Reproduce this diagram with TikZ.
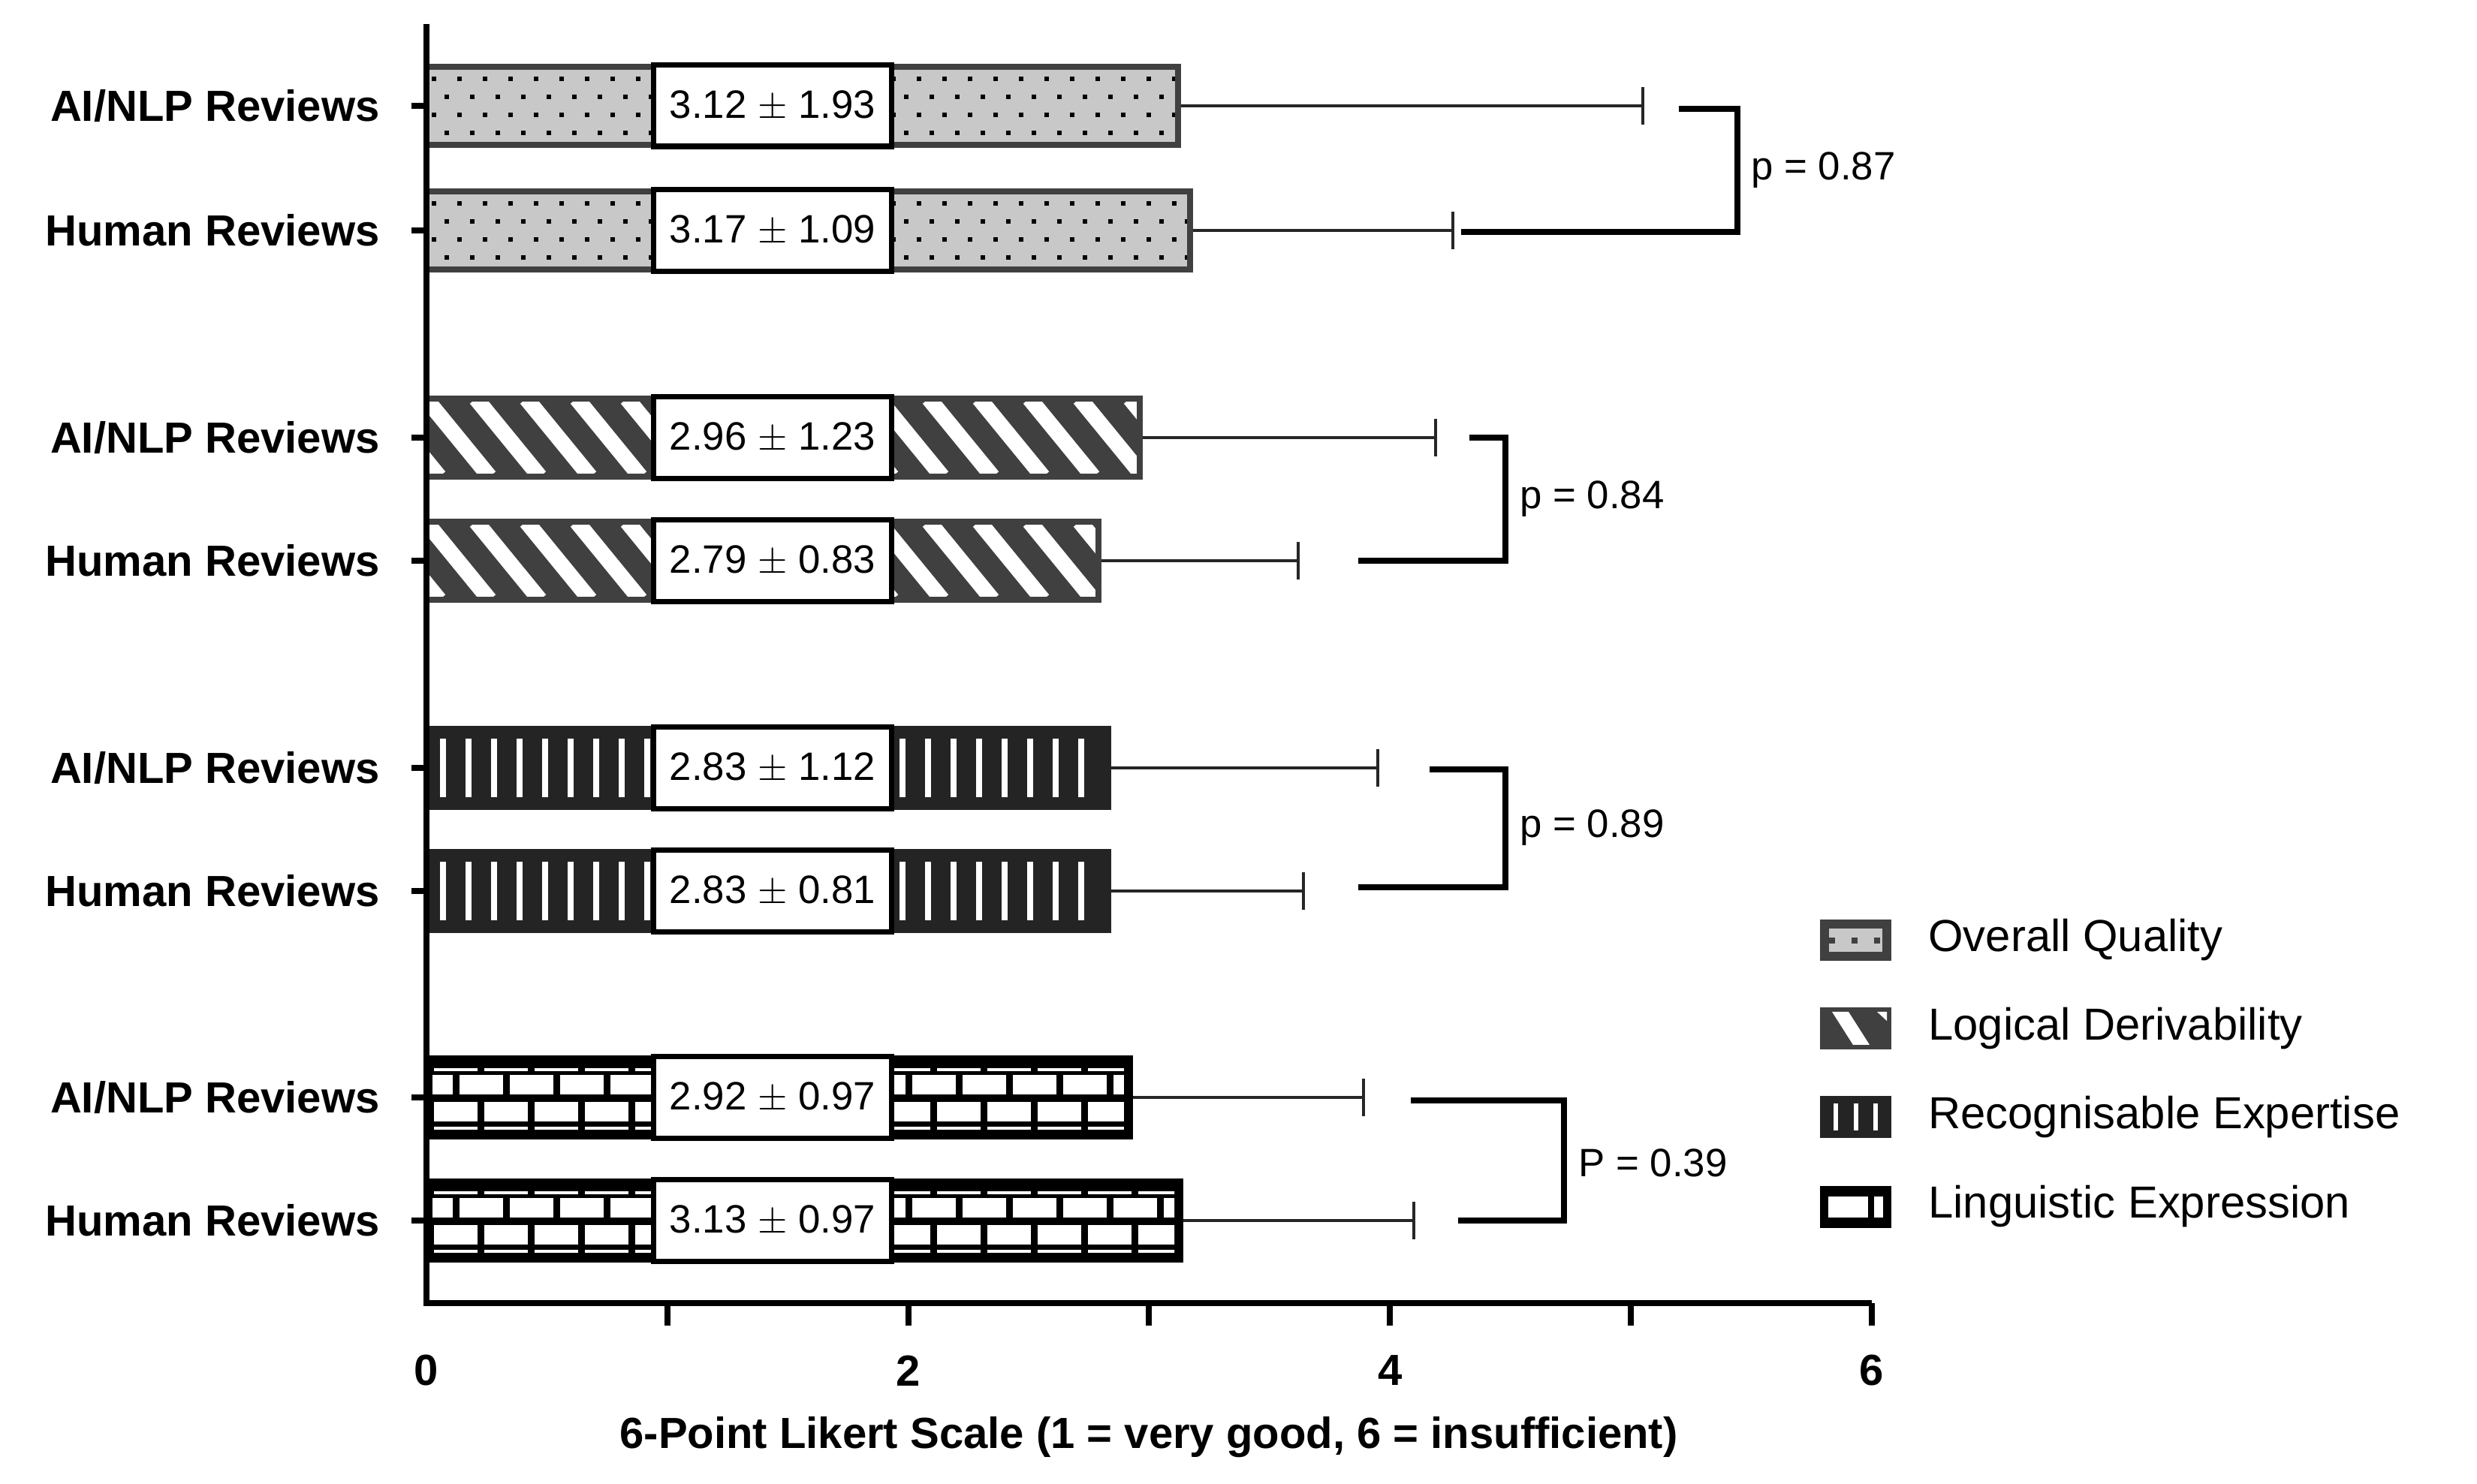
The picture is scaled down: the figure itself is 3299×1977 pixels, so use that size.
\documentclass[tikz,border=0pt]{standalone}
\usepackage{fontspec}
\setmainfont{Liberation Sans}
\definecolor{dg}{HTML}{404040}
\definecolor{lg}{HTML}{C8C8C8}
\definecolor{vk}{HTML}{242424}
\newcommand\barDots[3]{% x1, top, bottom
  \fill[lg] (568,#2) rectangle (#1,#3);
  \begin{scope}
    \clip (568,#2) rectangle (#1,#3);
    \foreach \r in {0,1,2,3}{
      \pgfmathsetmacro\yy{#2+16+\r*24}
      \pgfmathsetmacro\off{mod(\r,2)*17}
      \foreach \k in {0,...,60}{
        \fill[black] ({578+\off+\k*34-3},{\yy-3}) rectangle ++(6,6);
      }}
  \end{scope}
  \draw[dg,line width=2.3pt] (568,#2) rectangle (#1,#3);
}
\newcommand\barDiag[3]{%
  \fill[dg] (568,#2) rectangle (#1,#3);
  \begin{scope}
    \clip (568,#2) rectangle (#1,#3);
    \foreach \k in {0,...,40}{
      \draw[white,line width=6pt] ({500+\k*67},#2) -- ({500+\k*67+85},#3);
    }
  \end{scope}
  \draw[dg,line width=2.3pt] (568,#2) rectangle (#1,#3);
}
\newcommand\barVert[3]{%
  \fill[vk] (568,#2) rectangle (#1,#3);
  \begin{scope}
    \clip (580,#2) rectangle ({#1-12},#3);
    \foreach \k in {0,...,60}{
      \draw[white,line width=2pt] ({590+\k*34},{#2+13}) -- ({590+\k*34},{#3-13});
    }
  \end{scope}
  \draw[vk,line width=2.3pt] (568,#2) rectangle (#1,#3);
}
\newcommand\barBrick[3]{%
  \fill[black] (568,#2) rectangle (#1,#3);
  \begin{scope}
    \clip (576,#2) rectangle ({#1-8},#3);
    \foreach \k in {0,...,40}{
      \fill[white] ({578+\k*67},{#2+13}) rectangle ++(58,4);
      \fill[white] ({578+\k*67-33},{#2+22}) rectangle ++(58,26);
      \fill[white] ({578+\k*67},{#2+58}) rectangle ++(58,26);
      \fill[white] ({578+\k*67},{#2+91}) rectangle ++(58,4);
    }
  \end{scope}
  \draw[black,line width=2.3pt] (568,#2) rectangle (#1,#3);
}
\newcommand\mybar[6]{% #1 name, #2 y, #3 mean, #4 sd, #5 type macro, #6 text
  \pgfmathsetmacro\xe{568+#3*320.8}
  \pgfmathsetmacro\xs{568+(#3+#4)*320.8}
  \draw[errl] (\xe,#2) -- (\xs,#2);
  \draw[errl] (\xs,{#2-25}) -- (\xs,{#2+25});
  #5{\xe}{#2-52}{#2+52}
  \node[vbox] (#1) at (1029,#2) {#6};
  \draw[axisl] (548,#2) -- (568,#2);
}
\begin{document}
\begin{tikzpicture}[x=0.01cm,y=-0.01cm,
  errl/.style={line width=1.1pt,black!85},
  axisl/.style={line width=2.3pt,black},
  brk/.style={line width=2.3pt,black},
  vbox/.style={draw=black,line width=2pt,fill=white,minimum width=3.16cm,minimum height=1.08cm,inner sep=0pt,font=\fontsize{15}{18}\selectfont},
  cat/.style={anchor=east,font=\bfseries\fontsize{16.5}{20}\selectfont},
  pl/.style={anchor=west,font=\fontsize{15}{18}\selectfont},
  leg/.style={anchor=west,font=\fontsize{17}{20}\selectfont}]
\useasboundingbox (0,0) rectangle (3299,1977);
\fill[white] (0,0) rectangle (3299,1977);
% bars
\mybar{v1}{141}{3.12}{1.93}{\barDots}{3.12 $\pm$ 1.93}
\mybar{v2}{307}{3.17}{1.09}{\barDots}{3.17 $\pm$ 1.09}
\mybar{v3}{583}{2.96}{1.23}{\barDiag}{2.96 $\pm$ 1.23}
\mybar{v4}{747}{2.79}{0.83}{\barDiag}{2.79 $\pm$ 0.83}
\mybar{v5}{1023}{2.83}{1.12}{\barVert}{2.83 $\pm$ 1.12}
\mybar{v6}{1187}{2.83}{0.81}{\barVert}{2.83 $\pm$ 0.81}
\mybar{v7}{1462}{2.92}{0.97}{\barBrick}{2.92 $\pm$ 0.97}
\mybar{v8}{1626}{3.13}{0.97}{\barBrick}{3.13 $\pm$ 0.97}
% category labels
\node[cat] (c1) at (518,141) {AI/NLP Reviews};
\node[cat] (c2) at (518,307) {Human Reviews};
\node[cat] (c3) at (518,583) {AI/NLP Reviews};
\node[cat] (c4) at (518,747) {Human Reviews};
\node[cat] (c5) at (518,1023) {AI/NLP Reviews};
\node[cat] (c6) at (518,1187) {Human Reviews};
\node[cat] (c7) at (518,1462) {AI/NLP Reviews};
\node[cat] (c8) at (518,1626) {Human Reviews};
% axes
\draw[axisl] (568,32) -- (568,1736) -- (2493,1736);
\foreach \i in {1,...,6}{\draw[axisl] ({568+\i*320.8},1736) -- ({568+\i*320.8},1766);}
\foreach \i in {0,2,4,6}{\node[font=\bfseries\fontsize{16.5}{20}\selectfont] (t\i) at ({568+\i*320.8},1826) {\i};}
\node[font=\bfseries\fontsize{16.5}{20}\selectfont] (title) at (1530,1915) {6-Point Likert Scale (1 = very good, 6 = insufficient)};
% brackets
\draw[brk] (2236,145) -- (2314,145) -- (2314,309) -- (1946,309);
\node[pl] (p1) at (2320,227) {p = 0.87};
\draw[brk] (1957,583) -- (2005,583) -- (2005,747) -- (1809,747);
\node[pl] (p2) at (2012,665) {p = 0.84};
\draw[brk] (1904,1025) -- (2005,1025) -- (2005,1182) -- (1809,1182);
\node[pl] (p3) at (2012,1103) {p = 0.89};
\draw[brk] (1879,1466) -- (2083,1466) -- (2083,1626) -- (1942,1626);
\node[pl] (p4) at (2090,1549) {P = 0.39};
% legend
\fill[dg] (2424,1225) rectangle (2519,1280);
\fill[lg] (2436,1237) rectangle (2507,1268);
\foreach \xx in {2440,2470,2500}{\fill[dg] (\xx-4,1249) rectangle ++(8,8);}
\node[leg] (l1) at (2556,1252) {Overall Quality};
\fill[dg] (2424,1342) rectangle (2519,1398);
\begin{scope}\clip (2430,1348) rectangle (2513,1392);
\fill[white] (2440,1348) -- (2462,1348) -- (2490,1392) -- (2468,1392) -- cycle;
\fill[white] (2500,1348) -- (2513,1348) -- (2513,1360) -- cycle;\end{scope}
\node[leg] (l2) at (2556,1370) {Logical Derivability};
\fill[vk] (2424,1460) rectangle (2519,1516);
\foreach \xx in {2445,2472,2498}{\fill[white] (\xx-3,1470) rectangle ++(6,36);}
\node[leg] (l3) at (2556,1488) {Recognisable Expertise};
\fill[black] (2424,1580) rectangle (2519,1636);
\fill[white] (2435,1594) rectangle (2488,1622);
\fill[white] (2496,1594) rectangle (2508,1622);
\node[leg] (l4) at (2556,1607) {Linguistic Expression};
\end{tikzpicture}
\end{document}
